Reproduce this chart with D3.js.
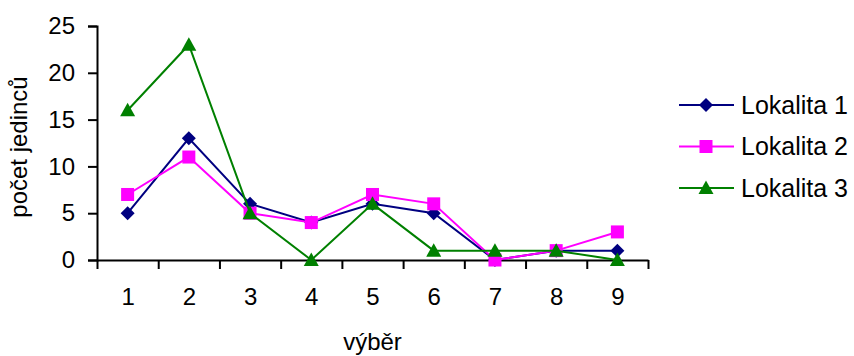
<!DOCTYPE html>
<html>
<head>
<meta charset="utf-8">
<script src="https://cdn.jsdelivr.net/npm/d3@7"></script>
<style>
  html, body { margin: 0; padding: 0; background: #fff; }
  svg { display: block; font-family: "Liberation Sans", Arial, sans-serif; }
</style>
</head>
<body>
<svg id="chart" width="854" height="356"></svg>
<script>
// Sample numbers and counts per site
const categories = [1, 2, 3, 4, 5, 6, 7, 8, 9];
const lokalita1 = [5, 13, 6, 4, 6, 5, 0, 1, 1];
const lokalita2 = [7, 11, 5, 4, 7, 6, 0, 1, 3];
const lokalita3 = [16, 23, 5, 0, 6, 1, 1, 1, 0];
const seriesNames = ["Lokalita 1", "Lokalita 2", "Lokalita 3"];
const yTicks = [0, 5, 10, 15, 20, 25];

const series = [
  { name: seriesNames[0], values: lokalita1, color: "#000080", symbol: "diamond" },
  { name: seriesNames[1], values: lokalita2, color: "#FF00FF", symbol: "square" },
  { name: seriesNames[2], values: lokalita3, color: "#008000", symbol: "triangle" }
];

const svg = d3.select("#chart");
const plotLeft = 97, plotRight = 648, plotTop = 26, plotBottom = 260;

// Categories sit in the middle of equal slots; ticks mark slot edges
const x = d3.scaleLinear().domain([0.5, categories.length + 0.5]).range([plotLeft, plotRight]);
const y = d3.scaleLinear().domain([0, 25]).range([plotBottom, plotTop]);

const fontSize = 24;

// Y axis
const yAxis = svg.append("g")
  .attr("transform", `translate(${plotLeft},0)`)
  .call(d3.axisLeft(y).tickValues(yTicks).tickSize(9).tickPadding(13));
yAxis.select(".domain").attr("stroke", "#000").attr("stroke-width", 2);
yAxis.selectAll(".tick line").attr("stroke", "#000").attr("stroke-width", 2);
yAxis.selectAll(".tick text").attr("font-size", fontSize).attr("fill", "#000")
  .attr("font-family", "Liberation Sans, Arial, sans-serif");

// X axis: edge ticks
const edges = d3.range(0.5, categories.length + 1, 1);
const xAxis = svg.append("g")
  .attr("transform", `translate(0,${plotBottom})`)
  .call(d3.axisBottom(x).tickValues(edges).tickSize(9).tickFormat("").tickSizeOuter(0));
xAxis.select(".domain").attr("stroke", "#000").attr("stroke-width", 2);
xAxis.selectAll(".tick line").attr("stroke", "#000").attr("stroke-width", 2);

// X axis: category labels
const xLabels = svg.append("g")
  .attr("transform", `translate(0,${plotBottom})`)
  .call(d3.axisBottom(x).tickValues(categories).tickSize(0).tickPadding(28));
xLabels.select(".domain").remove();
xLabels.selectAll(".tick text").attr("font-size", fontSize).attr("fill", "#000")
  .attr("font-family", "Liberation Sans, Arial, sans-serif");

// Axis titles
svg.append("text")
  .attr("x", (plotLeft + plotRight) / 2)
  .attr("y", 350)
  .attr("text-anchor", "middle")
  .attr("font-size", fontSize)
  .text("výběr");

svg.append("text")
  .attr("transform", "translate(27,147) rotate(-90)")
  .attr("text-anchor", "middle")
  .attr("font-size", fontSize)
  .text("počet jedinců");

// Marker shapes
function marker(sel, s) {
  if (s.symbol === "diamond") {
    sel.append("path").attr("d", "M0,-7L7,0L0,7L-7,0Z").attr("fill", s.color);
  } else if (s.symbol === "square") {
    sel.append("rect").attr("x", -6.5).attr("y", -6.5).attr("width", 13).attr("height", 13).attr("fill", s.color);
  } else {
    sel.append("path").attr("d", "M0,-7.5L7.5,6L-7.5,6Z").attr("fill", s.color);
  }
}

const line = d3.line()
  .x((d, i) => x(categories[i]))
  .y(d => y(d));

series.forEach(s => {
  const g = svg.append("g");
  g.append("path")
    .datum(s.values)
    .attr("d", line)
    .attr("fill", "none")
    .attr("stroke", s.color)
    .attr("stroke-width", 2);
  s.values.forEach((v, i) => {
    const m = g.append("g").attr("transform", `translate(${x(categories[i])},${y(v)})`);
    marker(m, s);
  });
});

// Legend
const legend = svg.append("g");
series.forEach((s, i) => {
  const ly = 105 + i * 41.5;
  const row = legend.append("g");
  row.append("line")
    .attr("x1", 679).attr("x2", 734)
    .attr("y1", ly).attr("y2", ly)
    .attr("stroke", s.color).attr("stroke-width", 2);
  const m = row.append("g").attr("transform", `translate(706,${ly})`);
  marker(m, s);
  row.append("text")
    .attr("x", 741)
    .attr("y", ly + 8.5)
    .attr("font-size", 25)
    .text(s.name);
});
</script>
</body>
</html>
